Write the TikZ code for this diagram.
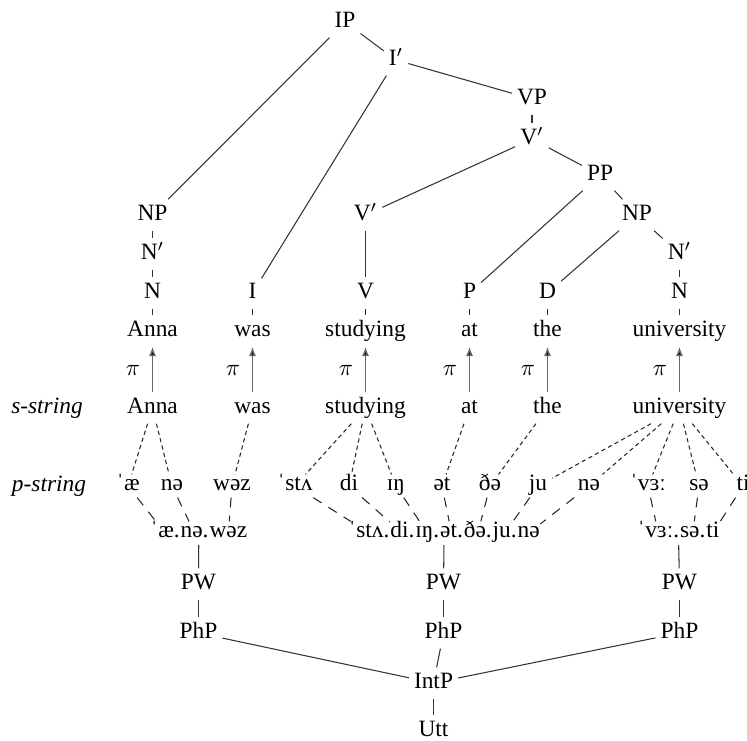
\documentclass[tikz,border=0pt]{standalone}
\usepackage{fontspec}
\setmainfont{Liberation Serif}
\usetikzlibrary{positioning, arrows.meta, fit}

\begin{document}
\begin{tikzpicture}[x=0.4275pt, y=-0.4275pt,
    every node/.style={inner sep=2pt, text height=7pt, text depth=2pt},
    sylnode/.style={inner ysep=0.5pt, text height=6pt, text depth=2.5pt},
    piece/.style={sylnode, inner xsep=0pt},
    branch/.style={draw=black!80, line width=0.45pt},
    assoc/.style={draw=black!85, line width=0.45pt, dash pattern=on 1.8pt off 1.4pt},
    syll/.style={draw=black!85, line width=0.45pt, dash pattern=on 4.2pt off 3.5pt},
    proj/.style={draw=black!60, line width=0.6pt, -{Latex[length=4pt, width=3pt]}}]
  \useasboundingbox (0,0) rectangle (747,740);

  % syntactic tree
  \node (IP)  at (345,22)  {IP};
  \node (I1)  at (396,60)  {I$'$};
  \node (VP)  at (532,99)  {VP};
  \node (V1)  at (532,139) {V$'$};
  \node (PP)  at (600,175) {PP};
  \node (NPa) at (152.5,215) {NP};
  \node (V2)  at (365.5,215) {V$'$};
  \node (NPb) at (637,215) {NP};
  \node (Na1) at (152.5,254) {N$'$};
  \node (Nb1) at (679.5,254) {N$'$};
  \node (Na)  at (152.5,293) {N};
  \node (I)   at (252.5,293) {I};
  \node (V)   at (365.5,293) {V};
  \node (P)   at (469.5,293) {P};
  \node (D)   at (547.5,293) {D};
  \node (Nb)  at (679.5,293) {N};

  \node (tAnna) at (152.5,331) {Anna};
  \node (tWas)  at (252.5,331) {was};
  \node (tStud) at (365.5,331) {studying};
  \node (tAt)   at (469.5,331) {at};
  \node (tThe)  at (547.5,331) {the};
  \node (tUni)  at (679.5,331) {university};

  \path[branch]
    (IP) edge (NPa) edge (I1)
    (I1) edge (I) edge (VP)
    (VP) edge (V1)
    (V1) edge (V2) edge (PP)
    (V2) edge (V)
    (PP) edge (P) edge (NPb)
    (NPb) edge (D) edge (Nb1)
    (Nb1) edge (Nb)
    (NPa) edge (Na1)
    (Na1) edge (Na)
    (Na) edge (tAnna)  (I) edge (tWas)  (V) edge (tStud)
    (P) edge (tAt)  (D) edge (tThe)  (Nb) edge (tUni);

  % s-string
  \node (slbl) at (47,408) {\textit{s-string}};
  \node (sAnna) at (152.5,408) {Anna};
  \node (sWas)  at (252.5,408) {was};
  \node (sStud) at (365.5,408) {studying};
  \node (sAt)   at (469.5,408) {at};
  \node (sThe)  at (547.5,408) {the};
  \node (sUni)  at (679.5,408) {university};

  \path[proj]
    (sAnna) edge node[left=3pt] {$\pi$} (tAnna)
    (sWas)  edge node[left=3pt] {$\pi$} (tWas)
    (sStud) edge node[left=3pt] {$\pi$} (tStud)
    (sAt)   edge node[left=3pt] {$\pi$} (tAt)
    (sThe)  edge node[left=3pt] {$\pi$} (tThe)
    (sUni)  edge node[left=3pt] {$\pi$} (tUni);

  % p-string
  \node (plbl) at (49,486) {\textit{p-string}};
  \node[sylnode] (yAe)  at (128,486) {ˈæ};
  \node[sylnode] (yNe)  at (172,486) {nə};
  \node[sylnode] (yWez) at (232,486) {wəz};
  \node[sylnode] (yStu) at (295,486) {ˈstʌ};
  \node[sylnode] (yDi)  at (349,486) {di};
  \node[sylnode] (yIng) at (396,486) {ɪŋ};
  \node[sylnode] (yEt)  at (442,486) {ət};
  \node[sylnode] (yDhe) at (490,486) {ðə};
  \node[sylnode] (yJu)  at (538,486) {ju};
  \node[sylnode] (yNo)  at (589,486) {nə};
  \node[sylnode] (yVe)  at (648,486) {ˈvɜː};
  \node[sylnode] (ySe)  at (699,486) {sə};
  \node[sylnode] (yTi)  at (743,486) {ti};

  \path[assoc]
    (sAnna) edge (yAe) edge (yNe)
    (sWas)  edge (yWez)
    (sStud) edge (yStu) edge (yDi) edge (yIng)
    (sAt)   edge (yEt)
    (sThe)  edge (yDhe)
    (sUni)  edge (yJu) edge (yNo) edge (yVe) edge (ySe) edge (yTi);

  % prosodic words
  \node[piece, anchor=west] (aAe) at (150,533) {ˈæ.};
  \node[piece, right=0pt of aAe] (aNe) {nə.};
  \node[piece, right=0pt of aNe] (aWez) {wəz};
  \node[piece, anchor=west] (bStu) at (348,533) {ˈstʌ.};
  \node[piece, right=0pt of bStu] (bDi) {di.};
  \node[piece, right=0pt of bDi] (bIng) {ɪŋ.};
  \node[piece, right=0pt of bIng] (bEt) {ət.};
  \node[piece, right=0pt of bEt] (bDhe) {ðə.};
  \node[piece, right=0pt of bDhe] (bJu) {ju.};
  \node[piece, right=0pt of bJu] (bNo) {nə};
  \node[piece, anchor=west] (cVe) at (637,533) {ˈvɜː.};
  \node[piece, right=0pt of cVe] (cSe) {sə.};
  \node[piece, right=0pt of cSe] (cTi) {ti};
  \node[fit=(aAe)(aWez), inner sep=0pt] (strA) {};
  \node[fit=(bStu)(bNo), inner sep=0pt] (strB) {};
  \node[fit=(cVe)(cTi), inner sep=0pt] (strC) {};

  \path[syll]
    (yAe) edge (aAe)  (yNe) edge (aNe)  (yWez) edge (aWez)
    (yStu) edge (bStu)  (yDi) edge (bDi)  (yIng) edge (bIng)
    (yEt) edge (bEt)  (yDhe) edge (bDhe)  (yJu) edge (bJu)  (yNo) edge (bNo)
    (yVe) edge (cVe)  (ySe) edge (cSe)  (yTi) edge (cTi);

  % prosodic hierarchy
  \node (PWa)  at (198.5,584) {PW};
  \node (PWb)  at (443.5,584) {PW};
  \node (PWc)  at (679.5,584) {PW};
  \node (PhPa) at (198.5,633) {PhP};
  \node (PhPb) at (443.5,633) {PhP};
  \node (PhPc) at (679.5,633) {PhP};
  \node (IntP) at (433.5,683) {IntP};
  \node (Utt)  at (433.5,731) {Utt};

  \path[branch]
    (strA) edge (PWa)  (strB) edge (PWb)  (strC) edge (PWc)
    (PWa) edge (PhPa)  (PWb) edge (PhPb)  (PWc) edge (PhPc)
    (IntP) edge (PhPa) edge (PhPb) edge (PhPc) edge (Utt);
\end{tikzpicture}
\end{document}
